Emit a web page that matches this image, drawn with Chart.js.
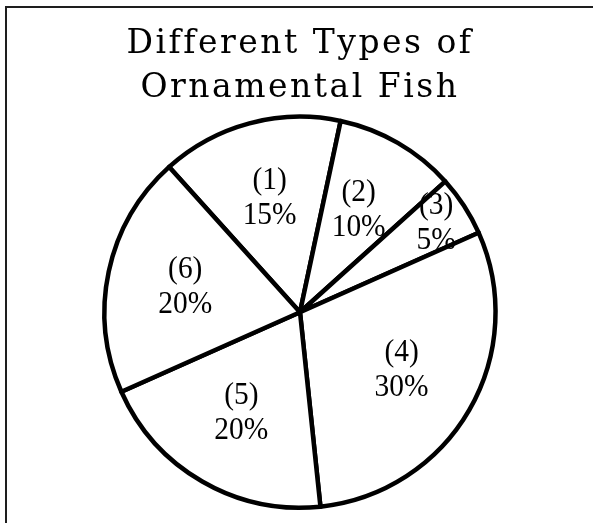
<!DOCTYPE html>
<html>
<head>
<meta charset="utf-8">
<title>Different Types of Ornamental Fish</title>
<script src="https://cdn.jsdelivr.net/npm/chart.js@4.4.1/dist/chart.umd.min.js"></script>
<style>
  html, body { margin: 0; padding: 0; background: #fff; }
  /* only the top and left edges of the frame are visible in the picture */
  #frame { position: absolute; left: 5px; top: 6px; right: 0; bottom: 0;
           border-top: 2px solid #1e1e1e; border-left: 2px solid #1e1e1e; }
  #wrap { position: absolute; left: 0; top: 0; width: 593px; height: 523px; }
</style>
</head>
<body>
<div id="frame"></div>
<div id="wrap"><canvas id="chart"></canvas></div>
<script>
const titleLines = ['Different Types of', 'Ornamental Fish'];
const categories = ['(1)', '(2)', '(3)', '(4)', '(5)', '(6)'];
const percentages = [15, 10, 5, 30, 20, 20];

// the title in the picture is letter-spaced; reset before the slices draw
const titleSpacing = {
  id: 'titleSpacing',
  beforeDraw(chart) { chart.ctx.letterSpacing = '2.5px'; },
  beforeDatasetsDraw(chart) { chart.ctx.letterSpacing = '0px'; },
};

/**
 * Writes "(n)" and "xx%" inside each slice, on the slice's mid angle.
 * The source font is a narrow Times, so the text is squeezed a little.
 */
const sliceLabels = {
  id: 'sliceLabels',
  afterDatasetsDraw(chart) {
    const { ctx } = chart;
    const meta = chart.getDatasetMeta(0);
    meta.data.forEach((arc, i) => {
      const { x, y, startAngle, endAngle, outerRadius } =
        arc.getProps(['x', 'y', 'startAngle', 'endAngle', 'outerRadius'], true);
      const mid = (startAngle + endAngle) / 2;
      // narrow slices push the text further out
      const r = outerRadius * (endAngle - startAngle < 0.5 ? 0.83 : 0.6);
      ctx.save();
      ctx.letterSpacing = '0px';
      ctx.font = '32px "Liberation Serif", "Times New Roman", serif';
      ctx.fillStyle = '#000';
      ctx.textAlign = 'center';
      ctx.textBaseline = 'middle';
      ctx.translate(x + Math.cos(mid) * r, y + Math.sin(mid) * r);
      ctx.scale(0.92, 1);
      ctx.fillText(categories[i], 0, -18);
      ctx.fillText(percentages[i] + '%', 0, 17);
      ctx.restore();
    });
  },
};

new Chart(document.getElementById('chart'), {
  type: 'pie',
  data: {
    labels: categories,
    datasets: [{
      data: percentages,
      backgroundColor: '#fff',
      borderColor: '#000',
      borderWidth: 4.5,
      borderJoinStyle: 'round',
      hoverOffset: 0,
    }],
  },
  options: {
    responsive: true,
    maintainAspectRatio: false,
    animation: false,
    events: [],
    rotation: -42,
    layout: { padding: { left: 7, right: 0, top: 0, bottom: 13 } },
    plugins: {
      legend: { display: false },
      tooltip: { enabled: false },
      title: {
        display: true,
        text: titleLines,
        color: '#000',
        font: { family: '"DejaVu Serif", serif', size: 33, weight: 'normal', lineHeight: 1.34 },
        padding: { top: 22, bottom: 4 },
      },
    },
  },
  plugins: [titleSpacing, sliceLabels],
});
</script>
</body>
</html>
